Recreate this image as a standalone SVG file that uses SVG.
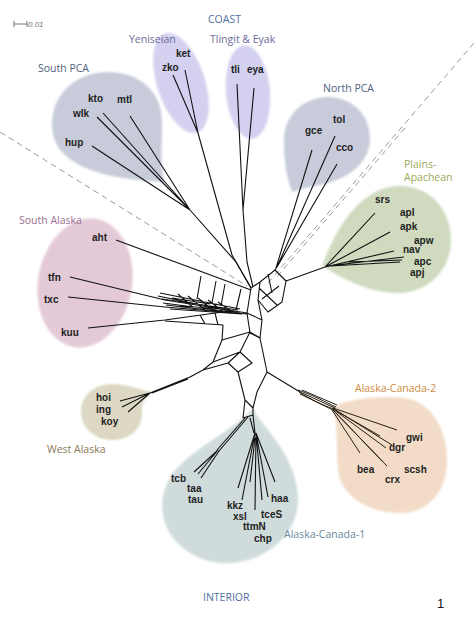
<svg xmlns="http://www.w3.org/2000/svg" width="474" height="632" viewBox="0 0 474 632">
<defs>
<filter id="soft" x="-10%" y="-10%" width="120%" height="120%"><feGaussianBlur stdDeviation="1.2"/></filter>
<style>
.blob{filter:url(#soft)}
.leaf{font-family:"Liberation Sans",Arial,sans-serif;font-weight:bold;font-size:10px;fill:#1e1e1e}
.grp{font-family:"Open Sans","Liberation Sans",sans-serif;font-size:10.5px}
.ln{fill:none;stroke:#111;stroke-width:1.1;stroke-linejoin:round}
.br{fill:none;stroke:#2a1f14;stroke-width:1}
.dash{fill:none;stroke:#9a9a9a;stroke-width:1;stroke-dasharray:6 4}
</style>
</defs>
<rect width="474" height="632" fill="#fff"/>

<g id="scale">
<path d="M14,24 H27 M14,21 V27 M27,21 V27" stroke="#777" stroke-width="1" fill="none"/>
<text x="28" y="27" font-family="Liberation Sans,sans-serif" font-style="italic" font-size="8" fill="#777">0.01</text>
</g>

<g id="region-labels" class="grp">
<text x="208" y="23" fill="#4f6f9f">COAST</text>
<text x="203" y="601" fill="#4f6f9f">INTERIOR</text>
<text x="437" y="608" font-family="Liberation Sans,sans-serif" font-size="13" fill="#111">1</text>
</g>

<g id="dividers">
<path class="dash" d="M0,132 L247,286"/>
<path class="dash" d="M474,43 L268,283"/>
<path class="dash" d="M405,128 L275,279"/>
</g>

<g id="south-pca">
<path class="blob" fill="#c8ccda" d="M165,182 C130,180 52,175 52,125 C52,92 78,72 108,72 C140,72 162,92 162,122 C162,150 160,168 165,182 Z"/>
<text class="grp" x="38" y="72" fill="#4f6080">South PCA</text>
<text class="leaf" x="88" y="102">kto</text>
<text class="leaf" x="117" y="103">mtl</text>
<text class="leaf" x="73" y="117">wlk</text>
<text class="leaf" x="65" y="146">hup</text>
</g>

<g id="yeniseian">
<ellipse class="blob" fill="#d3d1ef" cx="181" cy="83" rx="24" ry="52" transform="rotate(-18 181 83)"/>
<text class="grp" x="129" y="43" fill="#6b6b96">Yeniseian</text>
<text class="leaf" x="176" y="57">ket</text>
<text class="leaf" x="162" y="71">zko</text>
</g>

<g id="tlingit-eyak">
<ellipse class="blob" fill="#d3d1ef" cx="248" cy="92" rx="22" ry="47" transform="rotate(-5 248 92)"/>
<text class="grp" x="210" y="43" fill="#6b6b96">Tlingit &amp; Eyak</text>
<text class="leaf" x="231" y="73">tli</text>
<text class="leaf" x="247" y="73">eya</text>
</g>

<g id="north-pca">
<path class="blob" fill="#c8ccda" d="M292,192 C286,175 284,160 284,140 C284,115 304,97 328,97 C352,97 370,115 370,138 C370,165 345,180 320,185 C305,188 298,190 292,192 Z"/>
<text class="grp" x="323" y="92" fill="#4f6080">North PCA</text>
<text class="leaf" x="333" y="123">tol</text>
<text class="leaf" x="305" y="134">gce</text>
<text class="leaf" x="336" y="151">cco</text>
</g>

<g id="plains-apachean">
<path class="blob" fill="#cfdabf" d="M322,266 C335,230 360,186 400,186 C430,186 451,210 451,240 C451,270 428,293 398,293 C370,293 345,280 322,266 Z"/>
<text class="grp" x="404" y="168" fill="#9aaa5a">Plains-</text>
<text class="grp" x="404" y="181" fill="#9aaa5a">Apachean</text>
<text class="leaf" x="375" y="203">srs</text>
<text class="leaf" x="400" y="216">apl</text>
<text class="leaf" x="400" y="230">apk</text>
<text class="leaf" x="414" y="244">apw</text>
<text class="leaf" x="403" y="253">nav</text>
<text class="leaf" x="414" y="265">apc</text>
<text class="leaf" x="410" y="276">apj</text>
</g>

<g id="south-alaska">
<ellipse class="blob" fill="#e4cad7" cx="85" cy="283" rx="47" ry="65" transform="rotate(10 85 283)"/>
<text class="grp" x="19" y="224" fill="#9a7090">South Alaska</text>
<text class="leaf" x="92" y="241">aht</text>
<text class="leaf" x="48" y="281">tfn</text>
<text class="leaf" x="44" y="303">txc</text>
<text class="leaf" x="61" y="336">kuu</text>
</g>

<g id="west-alaska">
<path class="blob" fill="#dcd8c3" d="M152,392 C140,400 142,412 142,414 C142,430 128,440 112,440 C95,440 81,428 81,412 C81,395 95,384 112,384 C128,384 140,390 152,392 Z"/>
<text class="grp" x="47" y="453" fill="#8a7a55">West Alaska</text>
<text class="leaf" x="96" y="401">hoi</text>
<text class="leaf" x="96" y="413">ing</text>
<text class="leaf" x="101" y="425">koy</text>
</g>

<g id="alaska-canada-2">
<path class="blob" fill="#f2dcc8" d="M333,407 C350,398 380,395 405,398 C432,402 447,430 447,460 C447,492 428,513 400,513 C368,513 340,495 338,470 C336,445 338,425 333,407 Z"/>
<text class="grp" x="355" y="392" fill="#d08a40">Alaska-Canada-2</text>
<text class="leaf" x="406" y="441">gwi</text>
<text class="leaf" x="389" y="451">dgr</text>
<text class="leaf" x="357" y="473">bea</text>
<text class="leaf" x="404" y="473">scsh</text>
<text class="leaf" x="385" y="483">crx</text>
</g>

<g id="alaska-canada-1">
<path class="blob" fill="#d0dcdc" d="M253,408 C240,425 200,445 180,465 C160,485 158,510 168,530 C180,552 205,565 232,563 C265,561 298,535 298,500 C298,470 280,445 268,430 C262,422 256,415 253,408 Z"/>
<text class="grp" x="284" y="538" fill="#6a8aa0">Alaska-Canada-1</text>
<text class="leaf" x="171" y="482">tcb</text>
<text class="leaf" x="187" y="492">taa</text>
<text class="leaf" x="188" y="503">tau</text>
<text class="leaf" x="227" y="509">kkz</text>
<text class="leaf" x="233" y="520">xsl</text>
<text class="leaf" x="271" y="502">haa</text>
<text class="leaf" x="261" y="518">tceS</text>
<text class="leaf" x="243" y="530">ttmN</text>
<text class="leaf" x="254" y="542">chp</text>
</g>

<g id="connectors">
<path class="ln" d="M173,75 L198,133 M185,70 L198,133 L232,255 L251,288"/>
<path class="ln" d="M103,113 L190,210 M97,117 L190,210 M130,116 L190,210 M92,146 L190,210 L236,262 L251,288"/>
<path class="ln" d="M237,84 L243,210 M254,88 L243,210 L247,262 L253,287"/>
<path class="ln" d="M312,150 L276,268 M335,136 L277,267 M337,164 L277,267 L275,270"/>
<path class="ln" d="M275,270 L286,281 L282,302 L268,312 L258,300 L260,282 Z M259,288 L277,305 M262,299 L279,286 M268,274 L272,293 M251,288 L260,282"/>
<path class="ln" d="M286,281 L325,267 L375,213 M325,267 L390,232 M325,267 L394,251 M328,266 L404,257 M330,266 L400,262 M348,262 L402,260"/>
<path class="ln" d="M251,288 L247,313 L250,333 M258,300 L262,320 L260,338 M247,313 L262,320 M250,333 L260,338"/>
<path class="ln" d="M116,240 L251,290 M201,276 L197,299 M216,281 L212,303 M225,284 L221,306 M241,289 L236,310"/>
<path class="ln" d="M70,277 L165,300 L247,313 M68,297 L165,307 L247,314 M88,328 L165,320 L230,311 M165,321 L223,325 L222,340 M200,315 L205,324 M215,313 L218,325"/>
<path class="ln" stroke-width="0.9" d="M160,293 L240,309 M158,296 L236,312 M162,299 L238,310 M163,303 L240,313 M166,305 L232,313 M170,309 L242,314 M178,294 L195,309 M188,296 L205,310 M198,298 L214,311 M208,300 L224,312 M218,302 L232,312 M172,298 L210,304 M180,306 L225,309"/>
<path class="ln" d="M222,340 L250,332 L260,338 M222,340 L213,362 L240,352 L250,332 M240,352 L252,363 L238,372 L228,363 Z M213,362 L203,370 L190,377 M203,370 L228,363 M260,338 L267,372 L257,392 M267,372 L300,392 M238,372 L245,400 L253,408 L257,392 M245,400 L243,418 L253,415 L253,408"/>
<path class="ln" d="M190,377 L150,393 M188,379 L152,393 M150,393 L120,401 M150,393 L122,407 M150,393 L128,412"/>
<path class="br" stroke-width="1.2" d="M300,392 L335,408 M298,390 C315,396 325,402 336,407 M300,394 L333,410 M302,390 L337,405 M299,392 C312,400 322,405 334,409"/>
<path class="br" d="M333,408 L397,430 M333,409 L380,436 M333,409 L386,448 M333,410 L383,462 M333,410 L387,466 M332,410 L360,453 M334,409 L392,445"/>
<path class="ln" d="M245,418 L217,450 M248,417 L219,451 M218,450 L194,472 M218,450 L198,474 M219,451 L201,478"/>
<path class="ln" d="M253,415 L255,433 M250,418 L254,433 M255,433 L238,488 M255,433 L242,500 M256,433 L255,510 M256,433 L262,500 M256,433 L268,497 M256,433 L275,482 M255,438 L250,482"/>
</g>
</svg>
